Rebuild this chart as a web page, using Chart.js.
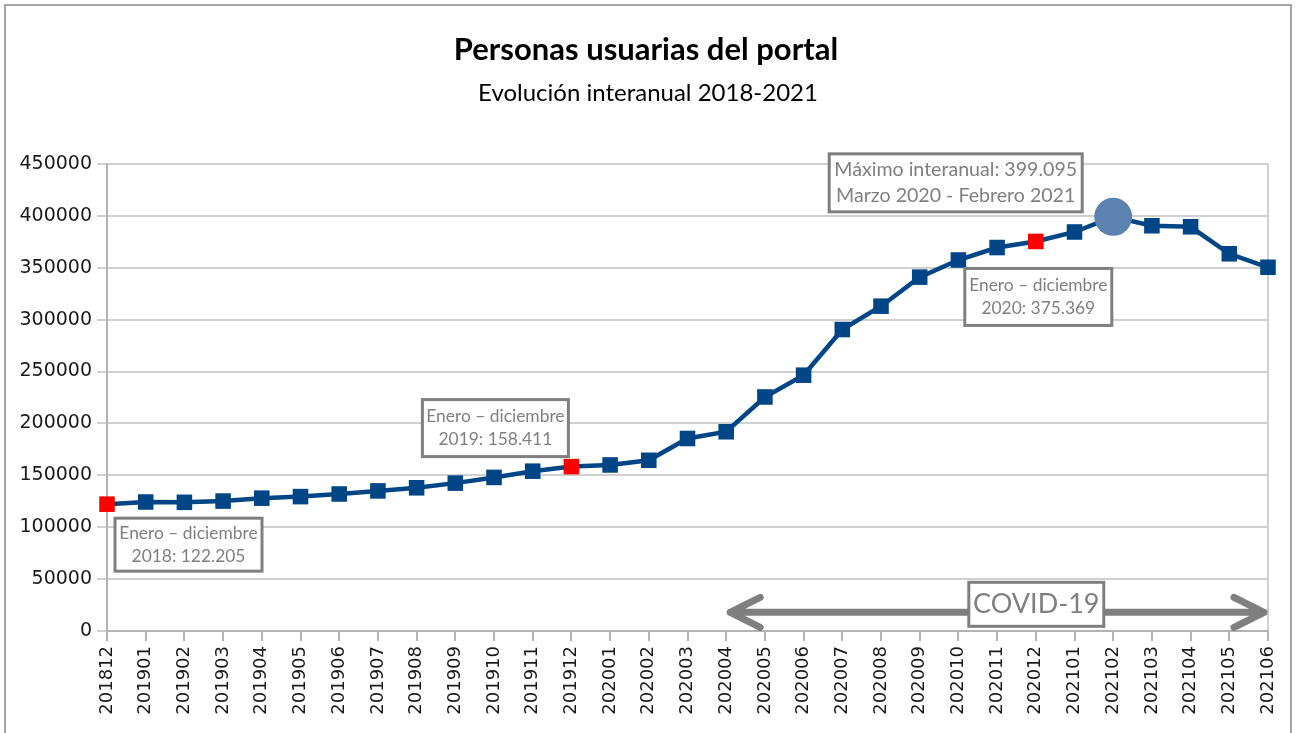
<!DOCTYPE html>
<html>
<head>
<meta charset="utf-8">
<script src="https://cdn.jsdelivr.net/npm/chart.js@4.4.1/dist/chart.umd.min.js"></script>
<style>
    html, body { margin: 0; padding: 0; background: #ffffff; }
    #wrap { width: 1296px; height: 733px; position: relative; }
</style>
</head>
<body>
<div id="wrap"><canvas id="usuarios"></canvas></div>
<script>
// Periodos (año + mes final del periodo interanual)
const periodos = [
    "201812", "201901", "201902", "201903", "201904", "201905", "201906",
    "201907", "201908", "201909", "201910", "201911", "201912", "202001",
    "202002", "202003", "202004", "202005", "202006", "202007", "202008",
    "202009", "202010", "202011", "202012", "202101", "202102", "202103",
    "202104", "202105", "202106"
];

// Personas usuarias (acumulado interanual)
const usuarios = [
    122205, 124300, 124000, 125200, 128000, 129500, 132000,
    135000, 138000, 142500, 148000, 154000, 158411, 160000,
    164500, 185500, 192000, 225500, 246500, 290500, 313000,
    341000, 357500, 369500, 375369, 384500, 399095, 390500,
    389500, 363500, 350500
];

const cierresAnuales = [0, 12, 24];   // enero-diciembre
const maximo = 26;                      // marzo 2020 - febrero 2021

const yMin = 0, yMax = 450000, yPaso = 50000;

const textoTitulo = "Personas usuarias del portal";
const textoSubtitulo = "Evolución interanual 2018-2021";

// notas del grafico
const notas = [
    { idx: 0, lineas: ["Enero – diciembre", "2018: 122.205"], dx: 8, dy: 14, w: 147, h: 53, size: 17.4 },
    { idx: 12, lineas: ["Enero – diciembre", "2019: 158.411"], dx: -149, dy: -67, w: 146, h: 57, size: 17.4 },
    { idx: 26, lineas: ["Máximo interanual: 399.095", "Marzo 2020 - Febrero 2021"], dx: -284, dy: -63, w: 253, h: 58, size: 19.6 },
    { idx: 24, lineas: ["Enero – diciembre", "2020: 375.369"], dx: -71, dy: 27, w: 147, h: 57, size: 17.4 }
];
const covid = { desde: 16, hasta: 30, centro: 24, valor: 18000, texto: "COVID-19" };

const gris = "#7f7f7f";
const azul = "#004586";

const colores = usuarios.map((v, i) =>
    i === maximo ? "#5b82b0" : (cierresAnuales.includes(i) ? "#ff0000" : azul));
const estilos = usuarios.map((v, i) => i === maximo ? "circle" : "rect");
const radios = usuarios.map((v, i) => i === maximo ? 19 : 11);

function caja(ctx, x, y, w, h, lineas, size) {
    ctx.save();
    ctx.fillStyle = "#ffffff";
    ctx.fillRect(x, y, w, h);
    ctx.lineWidth = 3;
    ctx.strokeStyle = gris;
    ctx.strokeRect(x, y, w, h);
    ctx.fillStyle = gris;
    ctx.font = size + "px Lato";
    ctx.textAlign = "center";
    ctx.textBaseline = "middle";
    const lh = size * 1.3;
    const y0 = y + h / 2 - (lineas.length - 1) * lh / 2;
    lineas.forEach((t, i) => ctx.fillText(t, x + w / 2, y0 + i * lh));
    ctx.restore();
}

// marco exterior, titulos y borde derecho del area
const marco = {
    id: "marco",
    beforeDraw(chart) {
        const ctx = chart.ctx;
        ctx.save();
        ctx.fillStyle = "#ffffff";
        ctx.fillRect(0, 0, chart.width, chart.height);
        ctx.strokeStyle = "#a6a6a6";
        ctx.lineWidth = 2;
        ctx.strokeRect(5, 5, 1286, 740);

        ctx.fillStyle = "#000000";
        ctx.textAlign = "center";
        ctx.textBaseline = "middle";
        ctx.font = "bold 31px Lato";
        ctx.fillText(textoTitulo, 646, 50);
        ctx.font = "24px Lato";
        ctx.fillText(textoSubtitulo, 648, 93);

        const a = chart.chartArea;
        ctx.strokeStyle = "#d0d0d0";
        ctx.beginPath();
        ctx.moveTo(a.right, a.top);
        ctx.lineTo(a.right, a.bottom);
        ctx.stroke();
        ctx.restore();
    }
};

const anotaciones = {
    id: "anotaciones",
    afterDatasetsDraw(chart) {
        const ctx = chart.ctx;
        const pts = chart.getDatasetMeta(0).data;
        const y = chart.scales.y.getPixelForValue(covid.valor);
        const x1 = pts[covid.desde].x + 4;
        const x2 = pts[covid.hasta].x - 4;

        // flecha doble COVID
        ctx.save();
        ctx.strokeStyle = gris;
        ctx.lineWidth = 7;
        ctx.lineCap = "round";
        ctx.lineJoin = "round";
        ctx.beginPath();
        ctx.moveTo(x1, y);
        ctx.lineTo(x2, y);
        ctx.moveTo(x1 + 30, y - 15);
        ctx.lineTo(x1, y);
        ctx.lineTo(x1 + 30, y + 15);
        ctx.moveTo(x2 - 30, y - 15);
        ctx.lineTo(x2, y);
        ctx.lineTo(x2 - 30, y + 15);
        ctx.stroke();
        ctx.restore();

        const cx = pts[covid.centro].x;
        caja(ctx, cx - 67, y - 30, 135, 44, [covid.texto], 27);

        notas.forEach(n => {
            const p = pts[n.idx];
            caja(ctx, p.x + n.dx, p.y + n.dy, n.w, n.h, n.lineas, n.size);
        });
    }
};

const ctx = document.getElementById("usuarios");

new Chart(ctx, {
    type: "line",
    data: {
        labels: periodos,
        datasets: [
            {
                label: "Personas usuarias",
                data: usuarios,
                borderColor: azul,
                borderWidth: 4.5,
                tension: 0,
                pointStyle: estilos,
                pointRadius: radios,
                pointHoverRadius: radios,
                pointBackgroundColor: colores,
                pointBorderColor: colores,
                pointBorderWidth: 0,
            },
        ],
    },
    options: {
        responsive: true,
        maintainAspectRatio: false,
        animation: false,
        layout: {
            padding: { left: 0, right: 28, top: 164, bottom: 0 },
        },
        plugins: {
            legend: { display: false },
            tooltip: { enabled: false },
            title: { display: false },
        },
        scales: {
            x: {
                offset: false,
                grid: {
                    drawOnChartArea: false,
                    drawTicks: true,
                    tickLength: 10,
                    color: "#b3b3b3",
                    lineWidth: 2,
                },
                border: { display: true, color: "#b3b3b3", width: 2 },
                ticks: {
                    autoSkip: false,
                    maxRotation: 90,
                    minRotation: 90,
                    padding: 5,
                    color: "#1a1a1a",
                    font: { family: "DejaVu Sans", size: 18 },
                },
                afterFit(scale) {
                    scale.height = 102;
                },
            },
            y: {
                min: yMin,
                max: yMax,
                ticks: {
                    stepSize: yPaso,
                    padding: 5,
                    color: "#1a1a1a",
                    font: { family: "DejaVu Sans", size: 19 },
                    callback: (v) => String(v),
                },
                grid: {
                    color: "#d0d0d0",
                    lineWidth: 2,
                    tickLength: 10,
                },
                border: { display: true, color: "#b3b3b3", width: 2 },
                afterFit(scale) {
                    scale.width = 107;
                },
            },
        },
    },
    plugins: [marco, anotaciones],
});
</script>
</body>
</html>
